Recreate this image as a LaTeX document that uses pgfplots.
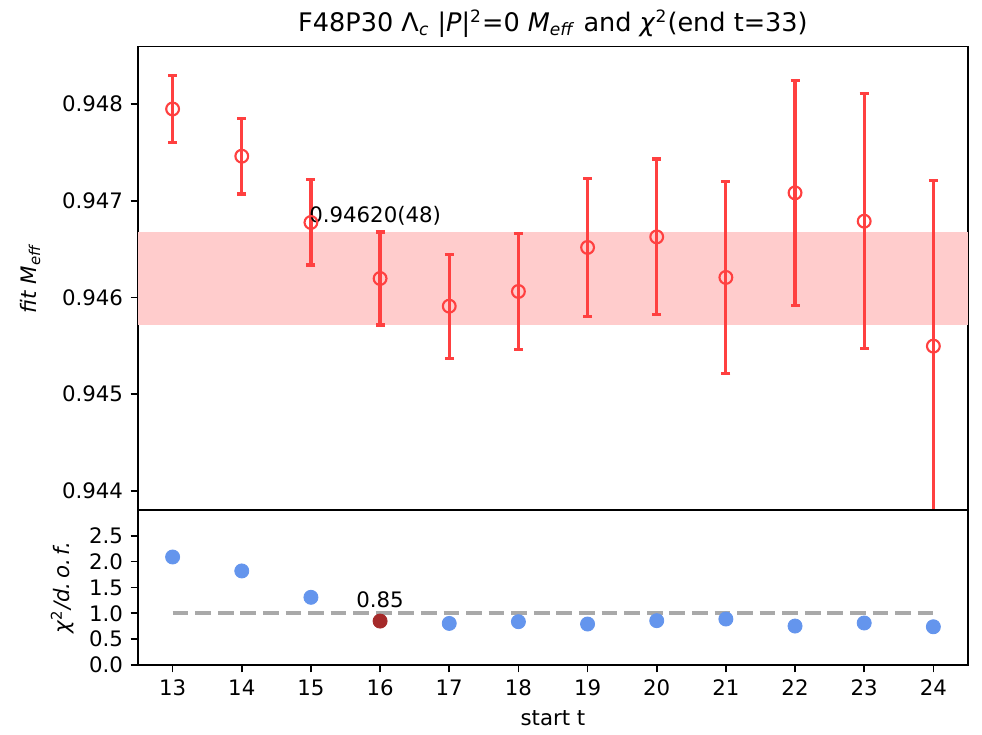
\documentclass[border=0pt]{standalone}
\usepackage{fontspec}
\setmainfont{DejaVu Sans}
\usepackage{pgfplots}
\pgfplotsset{compat=1.18}
\definecolor{errred}{RGB}{255,64,64}
\definecolor{bandred}{RGB}{255,204,204}
\definecolor{cblue}{RGB}{100,149,237}
\definecolor{brownred}{RGB}{165,42,42}
\definecolor{dgray}{RGB}{169,169,169}
\begin{document}
\begin{tikzpicture}
\path[use as bounding box] (0,0) rectangle (461pt,344.6pt);
\pgfplotsset{every axis/.append style={
  scale only axis, width=389.6pt,
  axis line style={line width=0.8pt},
  tick style={black, line width=0.8pt},
  major tick length=3.5pt, tick align=outside,
  xtick pos=bottom, ytick pos=left,
  /pgf/number format/assume math mode=true,
  tick label style={font=\fontsize{10}{12}\selectfont},
  label style={font=\fontsize{10}{12}\selectfont},
  xmin=12.5, xmax=24.5, scaled y ticks=false}}
\begin{axis}[at={(64.8pt,105.2pt)}, anchor=south west, height=217.5pt,
  ymin=0.943804, ymax=0.948592,
  ytick={0.944,0.945,0.946,0.947,0.948},
  yticklabel style={/pgf/number format/.cd, fixed, precision=3, fixed zerofill},
  xtick=\empty,
  ylabel={\textit{fit M}\textsubscript{\textit{eff}}},
  ylabel style={at={(axis description cs:-0.130,0.5)}, anchor=center},
  every axis title shift=0pt,
  title={F48P30 Λ\textsubscript{\textit{c}} |\textit{P}|\textsuperscript{2}=0 \textit{M}\textsubscript{\textit{eff}} and \textit{χ}\textsuperscript{2}(end t=33)},
  title style={at={(axis description cs:0.5,1)}, anchor=base, yshift=7pt, font=\fontsize{12}{14}\selectfont}]
\addplot[draw=none, fill=bandred] coordinates {(12.5,0.94572) (24.5,0.94572) (24.5,0.94668) (12.5,0.94668)} -- cycle;
\addplot[only marks, errred, mark=o, mark size=3pt, mark options={line width=1pt},
  error bars/.cd, y dir=both, y explicit,
  error bar style={line width=1.5pt, errred},
  error mark=-,
  error mark options={rotate=90, mark size=2.1pt, line width=1.5pt, errred}]
  coordinates {
  (13,0.947948) +- (0,0.000347)
  (14,0.947460) +- (0,0.000390)
  (15,0.946775) +- (0,0.000440)
  (16,0.946196) +- (0,0.000480)
  (17,0.945910) +- (0,0.000537)
  (18,0.946062) +- (0,0.000600)
  (19,0.946517) +- (0,0.000710)
  (20,0.946626) +- (0,0.000804)
  (21,0.946207) +- (0,0.000993)
  (22,0.947081) +- (0,0.001162)
  (23,0.946788) +- (0,0.001319)
  (24,0.945497) +- (0,0.001708)
  };
\node[anchor=base west, font=\fontsize{10}{12}\selectfont, inner sep=0pt] at (axis cs:14.97,0.946775) {0.94620(48)};
\end{axis}
\begin{axis}[at={(64.8pt,32.4pt)}, anchor=south west, height=72.8pt,
  ymin=0, ymax=3, ytick={0,0.5,1,1.5,2,2.5},
  yticklabel style={/pgf/number format/.cd, fixed, precision=1, fixed zerofill},
  xtick={13,14,15,16,17,18,19,20,21,22,23,24},
  xlabel={start t},
  ylabel={\textit{χ}\textsuperscript{2}\textit{/d.\,o.\,f.}},
  ylabel style={at={(axis description cs:-0.091,0.5)}, anchor=center}]
\addplot[dgray, line width=2pt, dash pattern=on 7.4pt off 3.2pt] coordinates {(13,1) (24,1)};
\addplot[only marks, mark=*, cblue, mark size=3.3pt] coordinates {
  (13,2.09) (14,1.82) (15,1.31) (17,0.805) (18,0.838) (19,0.793)
  (20,0.858) (21,0.89) (22,0.754) (23,0.813) (24,0.74)};
\addplot[only marks, mark=*, brownred, mark size=3.3pt] coordinates {(16,0.85)};
\node[anchor=base, font=\fontsize{10}{12}\selectfont] at (axis cs:16,1.105) {0.85};
\end{axis}
\end{tikzpicture}
\end{document}
